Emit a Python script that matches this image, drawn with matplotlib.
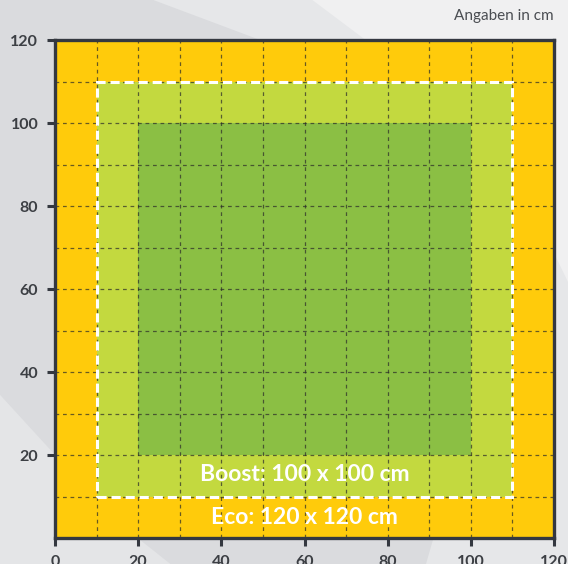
import matplotlib
matplotlib.use("Agg")
import matplotlib.pyplot as plt
from matplotlib.patches import Rectangle, Polygon

# areas (lower-left corner, size) in cm
eco = (0, 0, 120)
boost = (10, 10, 100)
inner = (20, 20, 80)
xTicks = [0, 20, 40, 60, 80, 100, 120]
yTicks = [20, 40, 60, 80, 100, 120]
gridSteps = list(range(0, 121, 10))
labels = [
    {"text": "Boost: 100 x 100 cm", "x": 60, "y": 15.2},
    {"text": "Eco: 120 x 120 cm", "x": 60, "y": 5},
]
unitNote = "Angaben in cm"

colors = {
    "eco": "#FFCB0B",
    "boost": "#C3D93F",
    "inner": "#8BBF44",
    "axis": "#343840",
    "text": "#3C3F44",
}

fig = plt.figure(figsize=(5.68, 5.64), dpi=100)
fig.patch.set_facecolor("#DADBDE")

# faint background shapes, on an axes behind the chart
bg = fig.add_axes([0, 0, 1, 1], zorder=-1)
bg.set_xlim(0, 1)
bg.set_ylim(0, 1)
bg.axis("off")
bg.add_patch(Polygon([[0.27, 1.0], [1.0, 1.0], [1.0, 0.0], [0.75, 0.0], [0.85, 0.35], [0.8, 0.8]],
                     closed=True, facecolor="#E6E7E9", edgecolor="none"))
bg.add_patch(Polygon([[0.55, 1.0], [1.0, 1.0], [1.0, 0.5], [0.88, 0.75]],
                     closed=True, facecolor="#F0F0F1", edgecolor="none"))
bg.add_patch(Polygon([[0.0, 0.0], [0.3, 0.0], [0.2, 0.08], [0.0, 0.3]],
                     closed=True, facecolor="#E4E5E7", edgecolor="none"))

ax = fig.add_axes([0.0968, 0.046, 0.8786, 0.883], zorder=1)

for key, (x0, y0, size) in [("eco", eco), ("boost", boost), ("inner", inner)]:
    ax.add_patch(Rectangle((x0, y0), size, size, facecolor=colors[key], edgecolor="none", zorder=1))

for g in gridSteps[1:-1]:
    ax.axvline(g, color="#2a2a2a", alpha=0.7, lw=0.9, dashes=(3, 3), zorder=2)
    ax.axhline(g, color="#2a2a2a", alpha=0.7, lw=0.9, dashes=(3, 3), zorder=2)

bx, by, bs = boost
ax.add_patch(Rectangle((bx, by), bs, bs, facecolor="none", edgecolor="white", lw=2.2,
                       linestyle=(0, (3, 1.6)), zorder=3))

for lab in labels:
    ax.text(lab["x"], lab["y"], lab["text"], color="white", fontsize=16.5, fontweight="bold",
            family="Lato", ha="center", va="center", zorder=4)

ax.set_xlim(0, 120)
ax.set_ylim(0, 120)
ax.set_xticks(xTicks)
ax.set_yticks(yTicks)
ax.tick_params(direction="out", length=6, width=2.2, color=colors["axis"], labelsize=11.5,
               labelcolor=colors["text"], pad=6)
for t in ax.get_xticklabels() + ax.get_yticklabels():
    t.set_fontweight("bold")
    t.set_family("Lato")
for s in ax.spines.values():
    s.set_color(colors["axis"])
    s.set_linewidth(2.4)
ax.set_facecolor(colors["eco"])

fig.text(0.975, 0.972, unitNote, ha="right", va="center", fontsize=11, color="#4A4D52", family="Lato")

fig.savefig("out.png", dpi=100, facecolor=fig.get_facecolor())
